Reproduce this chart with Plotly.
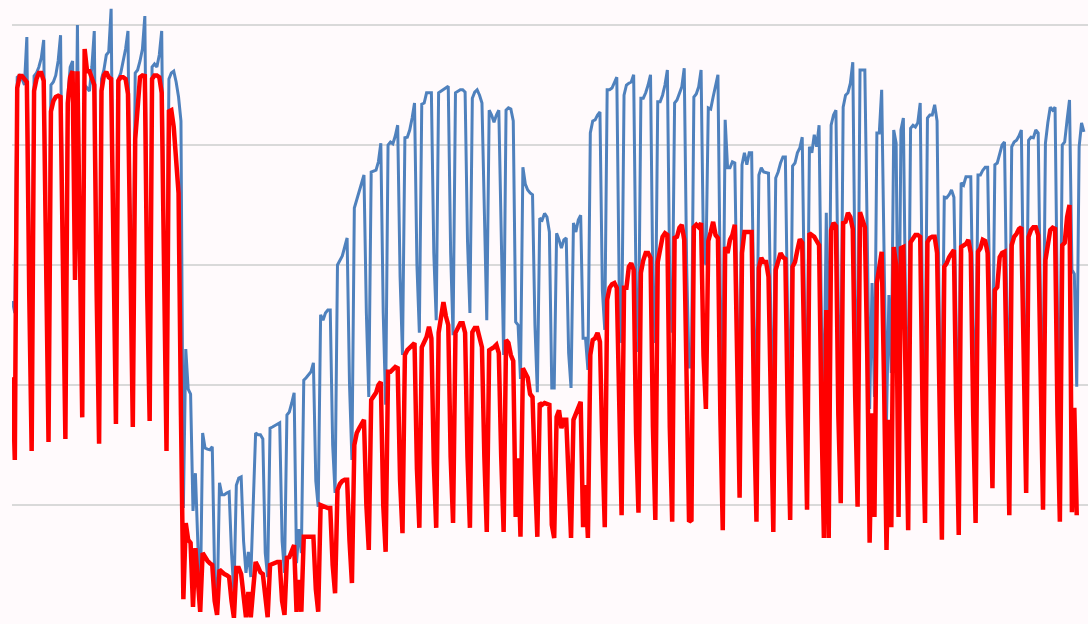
import plotly.graph_objects as go

# Daily values, one row per week: [Sat, Sun, Mon, Tue, Wed, Thu, Fri]
# first day = Saturday 2020-01-04
red_weeks = [
    [41.3, 27.5, 89.5, 91.5, 91.5, 91, 90.5],
    [55, 29, 89, 91, 92, 92, 90.7],
    [55, 30.5, 85.6, 87.3, 88, 88.2, 88],
    [55, 31, 87, 91.3, 92.3, 57.5, 92.3],
    [57, 34.6, 96, 92.3, 92.3, 91, 90],
    [55, 30.2, 89, 91.6, 92.2, 91.3, 91],
    [55, 33.5, 90.7, 91.3, 91.3, 91, 88.5],
    [55, 33, 81, 86.3, 91.3, 91.6, 91.5],
    [55, 34, 91, 91.6, 91.6, 91.3, 88.7],
    [55, 29, 85.6, 85.8, 83, 78, 72],
    [35, 4.3, 17, 14.2, 13.7, 3, 12.8],
    [7, 2.2, 12, 11.2, 10.7, 10.3, 10],
    [4, 1.7, 9.2, 8.8, 8.5, 8.3, 8],
    [4, 1.2, 9.5, 9.5, 8.5, 4, 1.3],
    [5.5, 1.3, 6, 10.5, 9.7, 8.8, 8.5],
    [4, 1.3, 10, 10.2, 10.3, 10.5, 10.5],
    [4, 1.7, 11.2, 11.3, 12.5, 13.3, 2.2],
    [7.5, 2.2, 14.7, 14.7, 14.7, 14.7, 14.7],
    [6, 2.2, 20, 19.8, 19.6, 19.5, 19.5],
    [10, 5.3, 22.5, 23.5, 24, 24.2, 24.2],
    [14, 7, 30, 32, 32.8, 33.5, 34.2],
    [20, 12.5, 37.5, 38.2, 38.7, 40, 40.5],
    [20, 12.2, 42.2, 42.2, 42.6, 43, 42.8],
    [24, 15.3, 45, 45.8, 46.2, 46.7, 47],
    [26, 16.2, 46.3, 47, 48, 49.7, 47.8],
    [27, 16.2, 48.7, 51.5, 53.8, 51.5, 50],
    [28, 17, 48.7, 49.5, 50.3, 50.3, 48.7],
    [28, 16.2, 48.8, 49.5, 49.5, 47.5, 46.3],
    [28, 15.5, 45.8, 46, 46.3, 46.7, 45.3],
    [28, 15.5, 47.5, 47, 45, 44, 18],
    [27.8, 14.7, 42.8, 42, 41.2, 38.5, 38],
    [25, 14.7, 37, 36.7, 37, 36.8, 36.7],
    [16.7, 14.5, 34.7, 35.8, 32.8, 34.2, 34.2],
    [25, 14.5, 34.2, 35.3, 36.5, 37.2, 16.3],
    [23.3, 14.5, 45, 47.5, 47.8, 48.7, 47.2],
    [30, 16.3, 54.2, 56.2, 56.8, 57, 56.2],
    [32, 18.3, 56.2, 56.2, 59.7, 60.3, 59.2],
    [32, 18.7, 58.7, 60.8, 62, 62, 61.2],
    [33, 17.5, 60.5, 62.5, 64.7, 65.3, 65],
    [33, 17.2, 64.5, 64.7, 66.2, 66.7, 64.2],
    [35, 17.2, 17.5, 66.3, 66.7, 66.3, 67],
    [45, 36, 64, 65.5, 67.2, 65, 64.5],
    [35, 15.8, 63, 62, 64.2, 65, 66.7],
    [40, 21.2, 62, 65.5, 65.5, 65.5, 65.5],
    [35, 17.2, 59.5, 61.2, 60.5, 60.5, 58],
    [35, 15.5, 59.2, 60.8, 62, 61.3, 61],
    [35, 17.5, 59.7, 60.5, 62.5, 64.3, 63.7],
    [38, 19.2, 65.3, 65, 64.7, 64, 63.3],
    [35, 14.5, 52.5, 14.5, 65.8, 67, 66.5],
    [35, 20.3, 67, 67.2, 68.7, 68, 66],
    [38, 19.7, 68.8, 67.5, 66.3, 45, 13.7],
    [35.3, 18, 57, 60.3, 62.2, 40, 12.5],
    [34.2, 16.3, 63, 60, 18, 62.8, 63],
    [35, 15.8, 63.8, 64.5, 65, 65, 64.7],
    [35, 17, 63.8, 64.5, 64.7, 64.7, 62],
    [33, 14.2, 59.7, 60.3, 61.3, 62, 62.5],
    [35, 15, 63, 63.3, 63.5, 64.2, 62],
    [35, 17, 62.2, 62.8, 64.2, 64, 62],
    [40, 22.8, 55.8, 56.3, 61.3, 62, 62.2],
    [38, 18.3, 63.3, 64.7, 65.2, 66, 66.3],
    [40, 22, 64.7, 65.8, 66.3, 66.3, 65],
    [38, 19.2, 60.8, 63, 65.8, 66.2, 66],
    [35, 17.2, 63.3, 63.7, 68, 70, 18.8],
    [36.2, 18.3],
]

blue_weeks = [
    [54, 52, 91.3, 91.6, 91, 90, 98],
    [58, 45, 91.5, 92, 93, 94.5, 97.5],
    [58, 45, 90, 90.5, 91.6, 94, 98.3],
    [58, 45, 88, 93, 94, 60, 100],
    [60, 45, 90, 89.5, 89, 93, 99],
    [58, 45, 91, 92.5, 95, 95.5, 102.7],
    [58, 45, 91, 92, 94, 96, 99],
    [58, 45, 92, 92.5, 94, 96, 101.5],
    [58, 45, 93, 93.5, 93, 95, 99],
    [58, 45, 91, 92, 92.3, 90.5, 88],
    [84, 19.5, 46, 39.3, 38.5, 19, 25.3],
    [12, 2.2, 32, 29.5, 29.3, 29.2, 29.7],
    [8, 2, 23.7, 21.7, 21.7, 22, 22.2],
    [12, 5.3, 23.3, 24.5, 24.7, 14, 8.7],
    [12.2, 8, 20, 32, 31.7, 31.7, 31],
    [12, 8, 32.8, 33, 33.2, 33.4, 33.7],
    [14, 8.7, 35, 35.5, 37, 38.7, 10.3],
    [16, 12, 40.8, 41.2, 41.7, 42.2, 43.7],
    [24, 19.7, 51.7, 50.8, 52, 52.5, 52.5],
    [30, 22, 60, 60.8, 61.5, 63, 64.5],
    [40, 27.5, 69.5, 70.8, 72, 73.5, 75],
    [52, 38, 75.5, 75.7, 75.8, 77.2, 80.3],
    [52, 36.7, 80, 80.5, 80.2, 81.5, 83.3],
    [58, 45, 81.2, 81.3, 82.5, 84.5, 87],
    [60, 48.7, 86.8, 87, 88.7, 88.7, 88.7],
    [62, 50.8, 88.7, 89, 89.3, 89.5, 89.8],
    [62, 48.3, 88.7, 89, 89.2, 89.2, 88.8],
    [64, 52, 87.8, 88.8, 89.2, 88.3, 87],
    [70, 50.8, 85.8, 85, 83.8, 85, 85.8],
    [62, 45, 85.8, 86.2, 86, 84, 50.5],
    [50, 41, 76.3, 73.5, 72.5, 72, 71.7],
    [50, 38.8, 67.8, 67.5, 68.6, 68, 65.5],
    [39.5, 39.5, 65.3, 64.2, 62.8, 64.2, 64.5],
    [45.3, 39.5, 67, 65.5, 67.5, 68.3, 47.8],
    [47.8, 42.5, 82, 84, 84.2, 85, 85.5],
    [55.8, 49.2, 89.2, 89.2, 89.5, 90.4, 91.3],
    [56, 47, 88.3, 90, 90.3, 90.5, 91.7],
    [56, 45.5, 87.8, 87.8, 88.7, 90, 91.7],
    [56, 47, 87.2, 87.2, 88.3, 90, 92.5],
    [57, 48.7, 87, 87.5, 88.5, 89.7, 92.8],
    [60, 43, 43, 88, 88.5, 89.7, 92.5],
    [62, 60, 86.2, 86, 88, 89.7, 91.7],
    [55, 38, 84.2, 76.2, 76.2, 77.2, 77],
    [52, 38, 76.7, 78.7, 76.7, 78.7, 78.7],
    [50, 37, 75, 76.2, 75.5, 75.4, 75.3],
    [50, 37, 74.5, 75.5, 77, 78, 78],
    [50, 37, 76.5, 77, 78.7, 79.5, 81.3],
    [52, 38, 79.7, 78.7, 81.7, 79.7, 83.3],
    [50, 37, 68.7, 37, 83.3, 85, 85.8],
    [52, 38, 86.3, 88.3, 88.7, 90.3, 93.8],
    [55, 38, 92.5, 92.5, 92.5, 65, 36],
    [57, 38, 82, 82, 89.2, 65, 34],
    [55, 42, 82.5, 80.3, 37.5, 82.5, 84.5],
    [50, 37, 82.8, 83.3, 83, 83.7, 87],
    [50, 37, 84.5, 85, 85, 86.7, 84],
    [48, 37, 71.3, 71.2, 71.7, 72.5, 71.3],
    [48, 37, 73.7, 73.3, 74.7, 74.7, 74.7],
    [50, 37, 75, 75, 75.8, 76.3, 76.3],
    [52, 40, 76.7, 77, 78.7, 80, 80.5],
    [52, 38, 79.7, 80.5, 80.8, 81.5, 82.5],
    [52, 40, 80.8, 81.3, 81.2, 82.5, 82],
    [52, 38, 80.3, 83.7, 86.3, 85.8, 86.3],
    [52, 38, 80, 80.5, 84.2, 87.5, 59.2],
    [58.5, 39.7, 79.7, 83.7, 82.2],
]

red_values = [v for week in red_weeks for v in week]
blue_values = [v for week in blue_weeks for v in week]
red_days = list(range(len(red_values)))
blue_days = list(range(len(blue_values)))

fig = go.Figure()
fig.add_trace(go.Scatter(x=blue_days, y=blue_values, mode="lines",
                         line=dict(color="#4f81bd", width=3), name="blue"))
fig.add_trace(go.Scatter(x=red_days, y=red_values, mode="lines",
                         line=dict(color="#ff0000", width=4.5), name="red"))

bg = "#fffafc"
fig.update_layout(
    width=1088, height=624, autosize=False,
    margin=dict(l=12, r=0, t=0, b=0, pad=0),
    paper_bgcolor=bg, plot_bgcolor=bg,
    showlegend=False,
    xaxis=dict(range=[-0.166, 446.68], showgrid=False, zeroline=False,
               showticklabels=False, showline=False, ticks=""),
    yaxis=dict(range=[0.1667, 104.1667], tick0=0, dtick=20, showgrid=True,
               gridcolor="#d9d9d9", gridwidth=1.5, zeroline=False,
               showticklabels=False, showline=False, ticks=""),
)

fig.write_html(
    "out.html",
    config={"displayModeBar": False},
    post_script="document.body.style.margin='0';"
                "document.body.style.background='" + bg + "';",
)
